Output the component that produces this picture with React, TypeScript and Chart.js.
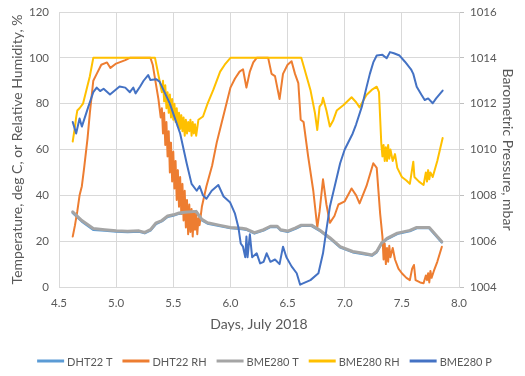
import React, { useEffect, useRef } from "react";
import { Chart, registerables } from "chart.js";

Chart.register(...registerables);

const xTicks = [4.5, 5.0, 5.5, 6.0, 6.5, 7.0, 7.5, 8.0];

const tempDays = [4.62,4.7,4.8,4.9,5.0,5.1,5.2,5.25,5.3,5.35,5.4,5.45,5.5,5.55,5.6,5.7,5.75,5.8,5.9,6.0,6.1,6.14,6.21,6.29,6.35,6.41,6.44,6.5,6.57,6.62,6.71,6.78,6.87,6.96,7.07,7.15,7.24,7.28,7.32,7.37,7.46,7.57,7.63,7.74,7.85];
const bmeT = [32.8,29,25.5,25,24.5,24.3,24.5,23.8,25,28,29,31,31.5,32.3,32.6,33,29.5,28,27,26,25.6,25.3,23.7,25,26.5,26.5,25,24.4,25.8,27,27,24.9,21.5,17.6,15.5,14.8,14,15.5,19,21.2,23.5,24.7,26,26,19.8];
const dhtT = [32.4,28.6,25,24.6,24.2,24,24.2,23.5,24.7,27.6,28.7,30.6,31.2,32,32.3,32.7,29.2,27.7,26.7,25.7,25.3,25,23.4,24.7,26.2,26.2,24.7,24.1,25.5,26.7,26.7,24.6,21.2,17.3,15.2,14.5,13.7,15.2,18.7,20.9,23.2,24.4,25.7,25.7,19.5];

const dhtRhDays = [4.62,4.64,4.66,4.68,4.70,4.72,4.75,4.77,4.80,4.83,4.87,4.92,4.95,5.00,5.08,5.12,5.30,5.32,5.35,5.37,5.39,5.40,5.41,5.42,5.43,5.44,5.45,5.46,5.47,5.48,5.49,5.50,5.51,5.52,5.53,5.54,5.55,5.56,5.57,5.58,5.59,5.60,5.61,5.62,5.63,5.64,5.65,5.66,5.67,5.68,5.69,5.70,5.71,5.72,5.73,5.75,5.79,5.84,5.88,5.92,5.96,6.00,6.04,6.08,6.11,6.14,6.17,6.20,6.23,6.33,6.36,6.39,6.43,6.46,6.50,6.535,6.565,6.594,6.615,6.64,6.68,6.725,6.76,6.78,6.81,6.84,6.87,6.91,6.945,7.00,7.06,7.10,7.13,7.19,7.25,7.28,7.31,7.33,7.34,7.35,7.36,7.37,7.38,7.39,7.40,7.42,7.44,7.47,7.50,7.54,7.57,7.59,7.606,7.62,7.66,7.69,7.71,7.72,7.73,7.74,7.75,7.76,7.78,7.81,7.85];
const dhtRh = [22,27,33,40,44,52,65,76,90,93,97,98,95.6,97.5,99,100,100,97,88,82,74,78,67,76,62,72,57,68,50,63,46,59,43,55,38,51,35,48,32,45,29,42,26,38,23,36,24,34,22,33,25,32,23,30,27,35,44,53,63,71,79,87,91,94,95,87,94,98,100,100,93,92,82,93,97,98.5,93,89,73,72,57,42,26,33,47,36,28,31,36,37.4,43,40,36.5,44,54,52,32,22,12,19,10,17,11,18,13,17,12,8,6,4,3,8,9.6,3,2,1.6,5,3,6,2,7,4,7,11,17.6];

const bmeRhDays = [4.62,4.64,4.65,4.66,4.68,4.71,4.74,4.77,4.785,4.80,5.34,5.36,5.38,5.40,5.41,5.42,5.43,5.44,5.45,5.46,5.47,5.48,5.49,5.50,5.51,5.52,5.53,5.54,5.55,5.56,5.57,5.58,5.59,5.60,5.61,5.62,5.63,5.64,5.65,5.66,5.67,5.68,5.69,5.70,5.72,5.76,5.80,5.85,5.91,5.95,6.00,6.62,6.70,6.74,6.76,6.78,6.80,6.81,6.84,6.87,6.90,6.93,6.99,7.06,7.10,7.13,7.19,7.236,7.28,7.30,7.32,7.33,7.34,7.35,7.36,7.37,7.38,7.39,7.40,7.42,7.44,7.46,7.50,7.54,7.57,7.60,7.61,7.65,7.69,7.71,7.72,7.73,7.74,7.75,7.77,7.81,7.857];
const bmeRh = [63.5,70,74,77,78,80,86,92,96,100,100,95,90,85,90,81,88,78,85,76,84,74,82,73,80,72,78,70,76,69,75,68,74,66,73,67,72,68,73,66,72,67,71,66,73,74.4,80,86,94,97,100,100,86,75.8,68.5,78.7,80,82.6,77,70,72.8,77,79.4,82.8,80.6,78.4,83.8,86,87.4,85,62.7,57,62,55,61,55,62,56,60,55,58,52,48,46.5,45,54.7,48,46,44.5,50,46,51,47,50,48,55,65];

const pDays = [4.62,4.65,4.68,4.70,4.757,4.80,4.83,4.86,4.89,4.946,5.03,5.08,5.12,5.15,5.17,5.21,5.24,5.28,5.30,5.35,5.38,5.47,5.56,5.617,5.66,5.705,5.73,5.76,5.79,5.836,5.894,5.94,5.996,6.04,6.07,6.09,6.11,6.13,6.14,6.15,6.17,6.19,6.23,6.26,6.29,6.317,6.35,6.39,6.43,6.46,6.49,6.535,6.58,6.61,6.70,6.77,6.81,6.84,6.87,6.96,7.00,7.07,7.10,7.15,7.19,7.22,7.25,7.28,7.33,7.367,7.396,7.43,7.48,7.527,7.58,7.60,7.63,7.67,7.70,7.73,7.77,7.80,7.857];
const pVals = [1011.2,1010.7,1011.35,1011.0,1011.87,1012.5,1012.7,1012.55,1012.65,1012.4,1012.75,1012.7,1012.5,1012.7,1012.45,1012.75,1013.0,1013.25,1013.03,1013.07,1012.96,1012.0,1010.7,1009.4,1008.5,1008.2,1008.4,1008.0,1007.85,1008.2,1008.45,1007.95,1007.7,1007.2,1006.6,1005.9,1005.76,1005.3,1006.2,1005.3,1006.3,1005.3,1005.47,1005.03,1005.1,1005.47,1005.1,1005.2,1005.0,1005.76,1005.3,1004.9,1004.6,1004.1,1004.3,1004.6,1005.47,1006.5,1007.5,1009.4,1010.0,1010.7,1011.1,1011.87,1012.7,1013.3,1013.8,1014.1,1014.13,1013.98,1014.25,1014.2,1014.1,1013.83,1013.5,1013.3,1012.74,1012.4,1012.16,1012.23,1012.02,1012.23,1012.57];

const seriesNames = ["DHT22 T", "DHT22 RH", "BME280 T", "BME280 RH", "BME280 P"];
const seriesColors = ["#5B9BD5", "#ED7D31", "#A5A5A5", "#FFC000", "#4472C4"];

const zip = (xs: number[], ys: number[]) => xs.map((x, i) => ({ x, y: ys[i] }));

const FONT = "Lato, 'Liberation Sans', sans-serif";
const GREY = "#595959";

const bottomLegend = {
  id: "bottomLegend",
  afterDraw(chart: any) {
    const ctx = chart.ctx;
    const items = chart.data.datasets.map((d: any) => ({ text: d.label, color: d.borderColor }));
    ctx.save();
    ctx.font = `11px ${FONT}`;
    const lineW = 27, gapT = 3, gapI = 10;
    const widths = items.map((it: any) => ctx.measureText(it.text).width);
    const total = widths.reduce((a: number, w: number) => a + lineW + gapT + w, 0) + gapI * (items.length - 1);
    let x = chart.width / 2 + 2 - total / 2;
    const y = chart.height - 15;
    ctx.textBaseline = "middle";
    ctx.textAlign = "left";
    items.forEach((it: any, i: number) => {
      ctx.strokeStyle = it.color;
      ctx.lineWidth = 3;
      ctx.beginPath();
      ctx.moveTo(x, y);
      ctx.lineTo(x + lineW, y);
      ctx.stroke();
      ctx.fillStyle = GREY;
      ctx.fillText(it.text, x + lineW + gapT, y + 1);
      x += lineW + gapT + widths[i] + gapI;
    });
    ctx.restore();
  },
};

export default function App() {
  const ref = useRef<HTMLCanvasElement | null>(null);
  useEffect(() => {
    document.body.style.margin = "0";
    const mk = (i: number, data: { x: number; y: number }[], width: number, order: number, axis = "y") => ({
      label: seriesNames[i],
      data,
      borderColor: seriesColors[i],
      backgroundColor: seriesColors[i],
      borderWidth: width,
      borderJoinStyle: "round" as const,
      borderCapStyle: "round" as const,
      pointRadius: 0,
      tension: 0,
      yAxisID: axis,
      order,
    });
    const chart = new Chart(ref.current!, {
      type: "line",
      data: {
        datasets: [
          mk(0, zip(tempDays, dhtT), 2.5, 4),
          mk(1, zip(dhtRhDays, dhtRh), 2, 3),
          mk(2, zip(tempDays, bmeT), 3, 2),
          mk(3, zip(bmeRhDays, bmeRh), 2, 1),
          mk(4, zip(pDays, pVals), 2, 0, "y1"),
        ],
      },
      plugins: [bottomLegend],
      options: {
        animation: false,
        responsive: false,
        layout: { padding: { left: 0, right: 0, top: 12, bottom: 40 } },
        plugins: {
          tooltip: { enabled: false },
          legend: { display: false },
        },
        scales: {
          x: {
            type: "linear",
            min: 4.5,
            max: 8.0,
            afterBuildTicks: (s: any) => { s.ticks = xTicks.map((v) => ({ value: v })); },
            afterFit: (s: any) => { s.height = 49; },
            ticks: { color: GREY, font: { family: FONT, size: 11.5 }, callback: (v: any) => Number(v).toFixed(1), padding: 9 },
            grid: { color: "#D9D9D9", drawTicks: false },
            border: { display: false },
            title: { display: true, text: "Days, July 2018", color: GREY, font: { family: FONT, size: 14 }, padding: { top: 2, bottom: 3.6 } },
          },
          y: {
            position: "left",
            min: 0,
            max: 120,
            afterFit: (s: any) => { s.width = 59; s.paddingTop = 0; s.paddingBottom = 0; },
            ticks: { stepSize: 20, color: GREY, font: { family: FONT, size: 11.5 }, padding: 10 },
            grid: { color: "#D9D9D9", drawTicks: false },
            border: { display: false },
            title: { display: true, text: "Temperature, deg C, or Relative Humidity, %", color: GREY, font: { family: FONT, size: 14 }, padding: { top: 8.6, bottom: 0 } },
          },
          y1: {
            position: "right",
            min: 1004,
            max: 1016,
            afterFit: (s: any) => { s.width = 66; s.paddingTop = 0; s.paddingBottom = 0; },
            ticks: { stepSize: 2, color: GREY, font: { family: FONT, size: 11.5 }, padding: 6, callback: (v: any) => String(v) },
            grid: { drawOnChartArea: false, color: "#BFBFBF", tickLength: 5 },
            border: { display: true, color: "#D9D9D9" },
            title: { display: true, text: "Barometric Pressure, mbar", color: GREY, font: { family: FONT, size: 14 }, padding: { top: 8.6, bottom: 0 } },
          },
        },
      },
    } as any);
    return () => chart.destroy();
  }, []);
  return (
    <div style={{ width: 525, height: 376 }}>
      <canvas ref={ref} width={525} height={376} style={{ width: 525, height: 376 }} />
    </div>
  );
}
